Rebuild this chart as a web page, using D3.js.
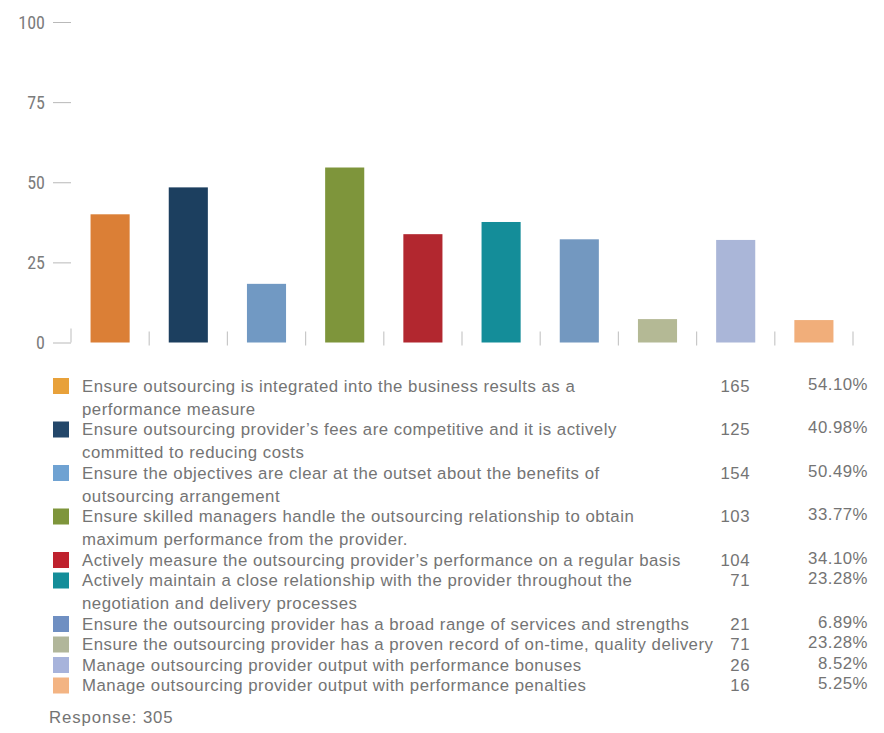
<!DOCTYPE html>
<html>
<head>
<meta charset="utf-8">
<script src="https://cdn.jsdelivr.net/npm/d3@7"></script>
<style>
  html, body { margin: 0; padding: 0; background: #ffffff; }
  svg { display: block; }
  text { font-family: "Liberation Sans", Arial, sans-serif; }
</style>
</head>
<body>
<svg id="chart" width="884" height="733"></svg>
<script>
// Bar heights (percent of respondents) in drawing order
const barValues = [40.0, 48.4, 18.3, 54.6, 33.8, 37.6, 32.2, 7.3, 32.0, 7.0];
const barColors = ["#db7f36", "#1c3f5f", "#7199c3", "#7e953b", "#b2272f",
                   "#148d99", "#7398c0", "#b4b995", "#aab6d8", "#f1ae7a"];
const swatchColors = ["#e8a13a", "#23476a", "#6fa2d2", "#7e953b", "#bf222e",
                      "#148d99", "#6f8fc2", "#b1b69a", "#a7b3db", "#f3b483"];

// Legend rows: wrapped statement lines, respondent count, share
const statements = [
  ["Ensure outsourcing is integrated into the business results as a", "performance measure"],
  ["Ensure outsourcing provider\u2019s fees are competitive and it is actively", "committed to reducing costs"],
  ["Ensure the objectives are clear at the outset about the benefits of", "outsourcing arrangement"],
  ["Ensure skilled managers handle the outsourcing relationship to obtain", "maximum performance from the provider."],
  ["Actively measure the outsourcing provider\u2019s performance on a regular basis"],
  ["Actively maintain a close relationship with the provider throughout the", "negotiation and delivery processes"],
  ["Ensure the outsourcing provider has a broad range of services and strengths"],
  ["Ensure the outsourcing provider has a proven record of on-time, quality delivery"],
  ["Manage outsourcing provider output with performance bonuses"],
  ["Manage outsourcing provider output with performance penalties"]
];
const counts = [165, 125, 154, 103, 104, 71, 21, 71, 26, 16];
const shares = ["54.10%", "40.98%", "50.49%", "33.77%", "34.10%", "23.28%", "6.89%", "23.28%", "8.52%", "5.25%"];
const yTicks = [0, 25, 50, 75, 100];
const responseTotal = 305;

const svg = d3.select("#chart");

// ---- Bar chart ----
const plot = { left: 71, right: 853, top: 22, bottom: 342.5 };

const x = d3.scaleBand()
  .domain(d3.range(barValues.length))
  .range([plot.left, plot.right])
  .paddingInner(0.5)
  .paddingOuter(0.25);

const y = d3.scaleLinear()
  .domain([0, 100])
  .range([plot.bottom, plot.top]);

// y axis: short dash ticks, no domain line
const yAxis = svg.append("g")
  .attr("transform", `translate(${plot.left},0)`)
  .call(d3.axisLeft(y).tickValues(yTicks).tickSize(18).tickPadding(8));
yAxis.select(".domain").remove();
yAxis.selectAll(".tick line").attr("stroke", "#b9b9b9").attr("stroke-width", 1);
yAxis.selectAll(".tick text")
  .attr("fill", "#7c7c7c")
  .attr("font-size", 18)
  .style("font-family", "'Liberation Sans Narrow', 'Roboto Condensed', 'Liberation Sans', sans-serif")
  .attr("dy", "0.36em");

// small vertical separators between categories along the baseline
const step = x.step();
const boundaries = d3.range(barValues.length + 1).map(i => plot.left + i * step);
svg.append("g").selectAll("line")
  .data(boundaries)
  .join("line")
  .attr("x1", d => d).attr("x2", d => d)
  .attr("y1", (d, i) => i === 0 ? plot.bottom - 14 : plot.bottom - 11)
  .attr("y2", (d, i) => i === 0 ? plot.bottom : plot.bottom + 3)
  .attr("stroke", "#c8c8c8")
  .attr("stroke-width", 1.2);

svg.append("g").selectAll("rect")
  .data(barValues)
  .join("rect")
  .attr("x", (d, i) => x(i))
  .attr("width", x.bandwidth())
  .attr("y", d => y(d))
  .attr("height", d => y(0) - y(d))
  .attr("fill", (d, i) => barColors[i]);

// ---- Legend table ----
const legend = svg.append("g");
const firstTop = 378;      // top of first swatch
const singleStep = 20.5;   // row advance for a one-line statement
const wrapStep = 23;       // extra advance per wrapped line
const rowTops = [];
statements.reduce((top, lines) => {
  rowTops.push(top);
  return top + singleStep + (lines.length - 1) * wrapStep;
}, firstTop);

const rows = legend.selectAll("g.row")
  .data(statements)
  .join("g")
  .attr("class", "row")
  .attr("transform", (d, i) => `translate(0,${rowTops[i]})`);

rows.append("rect")
  .attr("x", 53).attr("y", 0)
  .attr("width", 16).attr("height", 16)
  .attr("fill", (d, i) => swatchColors[i]);

const textStyle = sel => sel
  .attr("fill", "#747474")
  .attr("font-size", 16.8)
  .style("letter-spacing", "0.5px");

rows.append("text")
  .attr("x", 82)
  .call(textStyle)
  .selectAll("tspan")
  .data(d => d)
  .join("tspan")
  .attr("x", 82)
  .attr("y", (d, j) => 13.5 + j * wrapStep)
  .text(d => d);

rows.append("text")
  .attr("x", 750).attr("y", 13.5)
  .attr("text-anchor", "end")
  .call(textStyle)
  .text((d, i) => counts[i]);

rows.append("text")
  .attr("x", 868).attr("y", 11.5)
  .attr("text-anchor", "end")
  .call(textStyle)
  .text((d, i) => shares[i]);

svg.append("text")
  .attr("x", 49).attr("y", 723)
  .call(textStyle)
  .style("letter-spacing", "0.9px")
  .text(`Response: ${responseTotal}`);
</script>
</body>
</html>
